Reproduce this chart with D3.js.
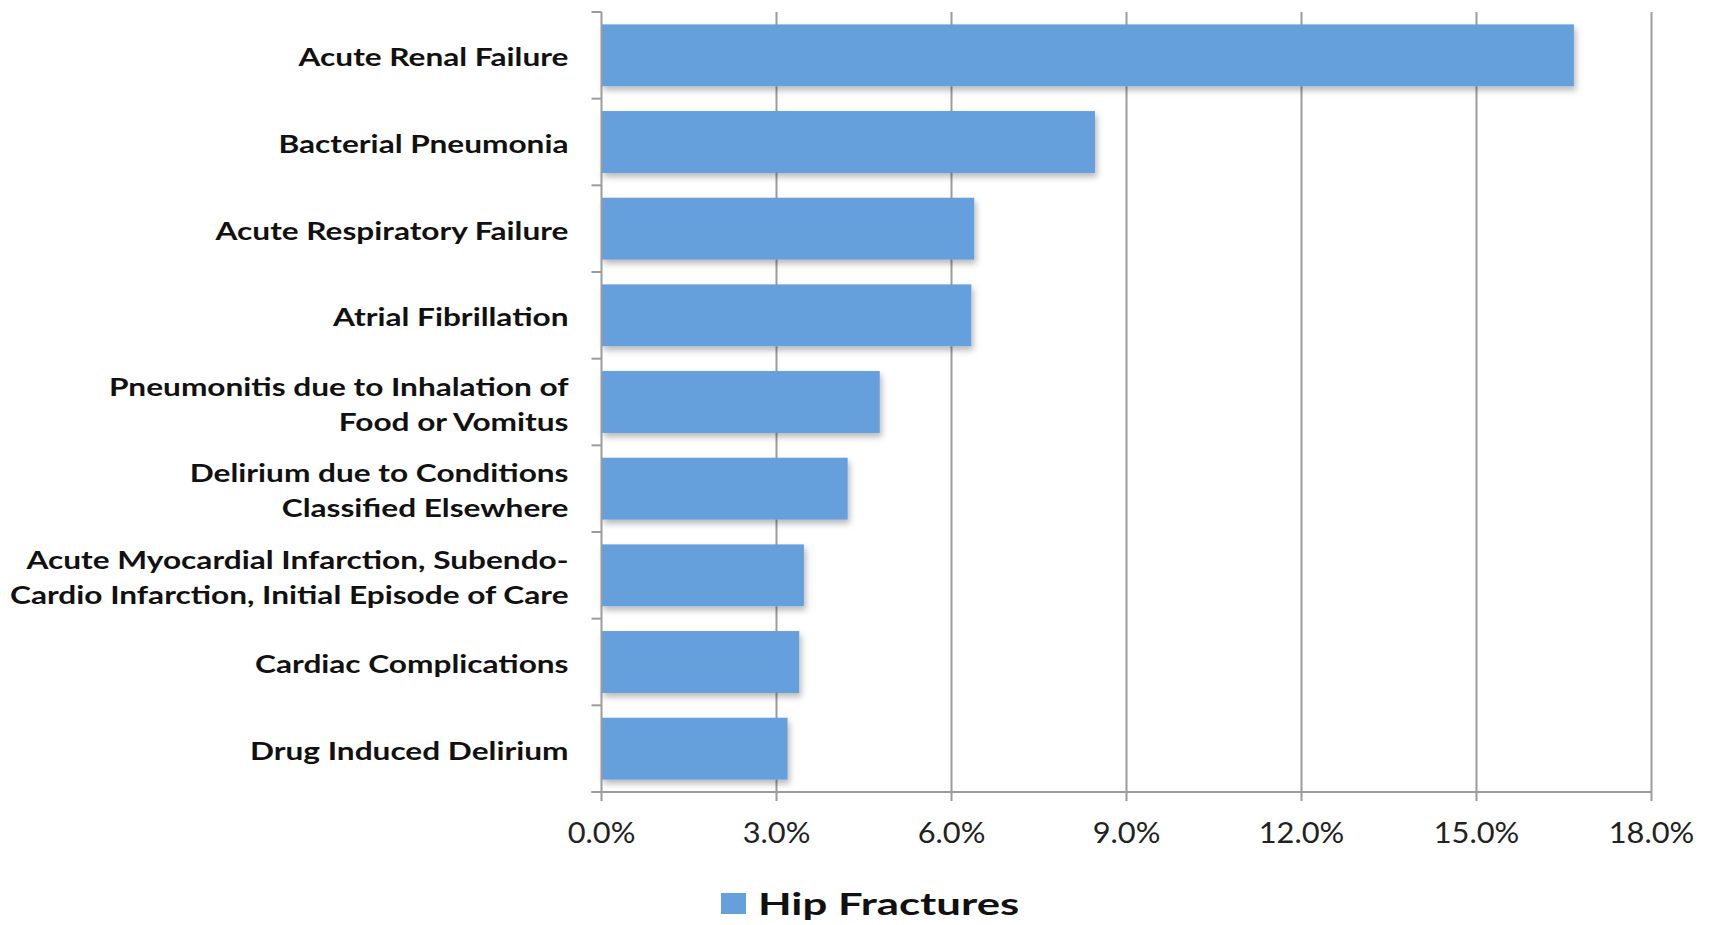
<!DOCTYPE html>
<html>
<head>
<meta charset="utf-8">
<script src="https://cdn.jsdelivr.net/npm/d3@7"></script>
<style>
  html, body { margin: 0; padding: 0; background: #fff; }
  svg { display: block; }
</style>
</head>
<body>
<svg id="chart" width="1711" height="925"></svg>
<script>
const categories = [
  "Acute Renal Failure",
  "Bacterial Pneumonia",
  "Acute Respiratory Failure",
  "Atrial Fibrillation",
  "Pneumonitis due to Inhalation of\nFood or Vomitus",
  "Delirium due to Conditions\nClassified Elsewhere",
  "Acute Myocardial Infarction, Subendo-\nCardio Infarction, Initial Episode of Care",
  "Cardiac Complications",
  "Drug Induced Delirium"
];
const hipFractures = [16.67, 8.46, 6.39, 6.34, 4.77, 4.22, 3.47, 3.39, 3.19];
const xTicks = [0, 3, 6, 9, 12, 15, 18];
const seriesName = "Hip Fractures";

(function () {
const svg = d3.select("#chart");
const pLeft = 601.5, pRight = 1651.5, pTop = 12, pBottom = 792;
const barColor = "#659fdc";
const axisColor = "#9c9c9c";

const defs = svg.append("defs");
const f = defs.append("filter").attr("id", "shadow")
  .attr("x", "-5%").attr("y", "-20%").attr("width", "115%").attr("height", "160%");
f.append("feDropShadow").attr("dx", 2).attr("dy", 4).attr("stdDeviation", 3)
  .attr("flood-color", "#000").attr("flood-opacity", 0.28);

const x = d3.scaleLinear().domain([0, 18]).range([pLeft, pRight]);
const y = d3.scaleBand().domain(categories).range([pTop, pBottom])
  .paddingInner(0.286).paddingOuter(0.143);

// gridlines
svg.append("g").selectAll("line").data(xTicks.filter(d => d > 0)).join("line")
  .attr("x1", d => x(d)).attr("x2", d => x(d))
  .attr("y1", pTop).attr("y2", pBottom + 9)
  .attr("stroke", axisColor).attr("stroke-width", 2);

// bars
svg.append("g").selectAll("rect").data(categories).join("rect")
  .attr("x", x(0))
  .attr("y", d => y(d))
  .attr("width", (d, i) => x(hipFractures[i]) - x(0))
  .attr("height", y.bandwidth())
  .attr("fill", barColor)
  .attr("filter", "url(#shadow)");

// y axis line
svg.append("line").attr("x1", pLeft).attr("x2", pLeft).attr("y1", pTop).attr("y2", pBottom + 9)
  .attr("stroke", axisColor).attr("stroke-width", 2);
// y axis ticks at band boundaries
const step = y.step();
const bounds = d3.range(categories.length + 1).map(i => pTop + i * step);
svg.append("g").selectAll("line").data(bounds).join("line")
  .attr("x1", pLeft - 10).attr("x2", pLeft)
  .attr("y1", d => d).attr("y2", d => d)
  .attr("stroke", axisColor).attr("stroke-width", 2);
// x axis line
svg.append("line").attr("x1", pLeft - 10).attr("x2", pRight).attr("y1", pBottom).attr("y2", pBottom)
  .attr("stroke", axisColor).attr("stroke-width", 2);

// x tick labels (horizontally widened to match the reference's stretched type)
svg.append("g").selectAll("text").data(xTicks).join("text")
  .attr("transform", d => `translate(${x(d)},832) scale(1.1,1)`)
  .attr("text-anchor", "middle").attr("dominant-baseline", "central")
  .attr("font-family", "Lato, sans-serif").attr("font-size", 28)
  .attr("fill", "#222")
  .text(d => d.toFixed(1) + "%");

// category labels
const lineH = 35;
const lab = svg.append("g").selectAll("text").data(categories).join("text")
  .attr("transform", "translate(568.5,0) scale(1.29,1)")
  .attr("text-anchor", "end")
  .attr("font-family", "Lato, sans-serif").attr("font-weight", 700).attr("font-size", 24.5)
  .attr("fill", "#111");
lab.each(function(d) {
  const lines = d.split("\n");
  const cy = y(d) + y.bandwidth() / 2 + 1.5;
  const t = d3.select(this);
  lines.forEach((ln, k) => {
    t.append("tspan").attr("x", 0)
      .attr("y", cy + (k - (lines.length - 1) / 2) * lineH)
      .attr("dominant-baseline", "central")
      .text(ln);
  });
});

// legend
svg.append("rect").attr("x", 721).attr("y", 893).attr("width", 25).attr("height", 21).attr("fill", barColor);
svg.append("text").attr("transform", "translate(758,915) scale(1.41,1)")
  .attr("font-family", "Lato, sans-serif").attr("font-weight", 700).attr("font-size", 31)
  .attr("fill", "#111").text(seriesName);
})();
</script>
</body>
</html>
